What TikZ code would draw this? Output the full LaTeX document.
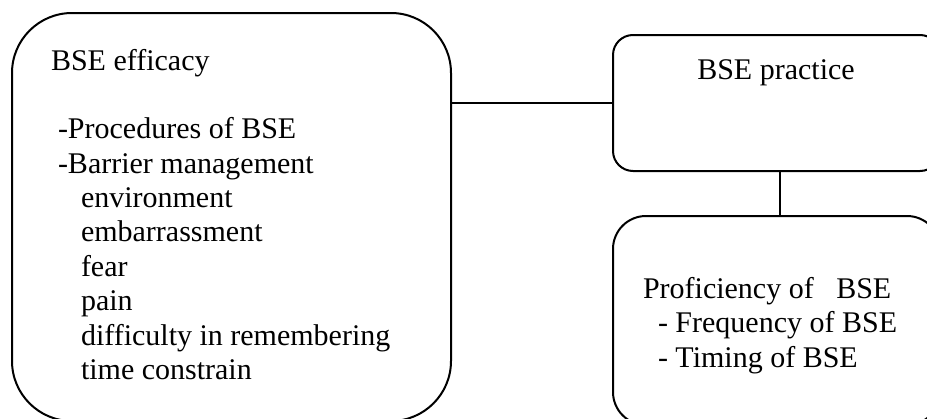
\documentclass[tikz,border=0pt]{standalone}
\usepackage{fontspec}
\setmainfont{Liberation Serif}
\usetikzlibrary{positioning}

\begin{document}
\begin{tikzpicture}
	[x=0.5pt, y=-0.5pt, line width=1pt,
	box/.style = {draw, inner sep=0pt, outer sep=0pt},
	txt/.style = {anchor=base west, inner sep=0pt, font=\fontsize{15}{17.25}\selectfont}]
	\clip (0,0) rectangle (927,418);
	% boxes
	\node[box, rounded corners=30pt, minimum width=219.5pt, minimum height=204pt] (efficacy) at (231.5,217) {};
	\node[box, rounded corners=10pt, minimum width=163.5pt, minimum height=68pt] (practice) at (776.5,103) {};
	\node[box, rounded corners=16.5pt, minimum width=163.5pt, minimum height=104.5pt] (proficiency) at (776.5,320.5) {};
	% texts
	\node[txt] (efftitle) at (50,70) {BSE efficacy};
	\node[txt] (procedures) at (57,138) {-Procedures of BSE};
	\node[txt] (barrier) at (57,173) {-Barrier management};
	\foreach \item [count=\i from 0] in {environment, embarrassment, fear, pain, difficulty in remembering, time constrain}
		\node[txt] (barrier-\i) at (80,207+34.5*\i) {\item};
	\node[txt, anchor=base] (practitle) at (776,79) {BSE practice};
	\node[txt] (proftitle) at (642,298) {Proficiency of \ \ BSE};
	\node[txt] (frequency) at (657,332) {- Frequency of BSE};
	\node[txt] (timing) at (657,367) {- Timing of BSE};
	% connectors
	\draw (efficacy.east |- practice.west) -- (practice.west);
	\draw ([xshift=1.75pt]practice.south) -- ([xshift=1.75pt]proficiency.north);
\end{tikzpicture}
\end{document}
